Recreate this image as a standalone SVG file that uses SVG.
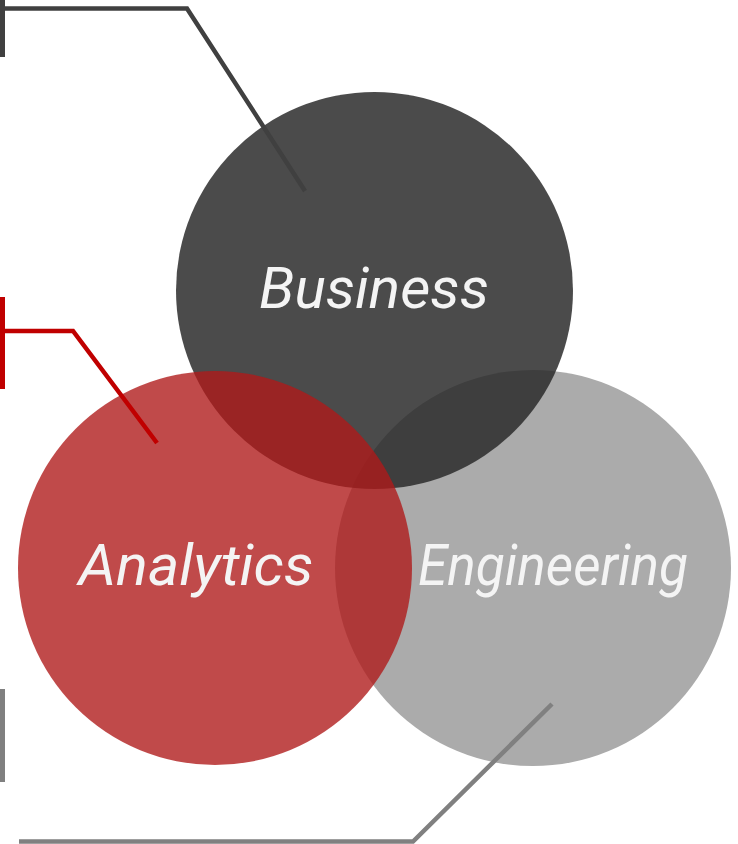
<svg xmlns="http://www.w3.org/2000/svg" width="738" height="844" viewBox="0 0 738 844">
<style>
.lbl{font-family:Roboto,"Liberation Sans",sans-serif;font-style:italic;font-weight:400;font-size:57px;fill:#f4f4f4;text-anchor:middle}
.c{fill:none;stroke-width:4.5;stroke-linejoin:miter}
</style>
<rect width="738" height="844" fill="#ffffff"/>
<g id="engineering">
<circle cx="533" cy="568" r="198" fill="#ababab"/>
</g>
<g id="business">
<circle cx="374.5" cy="290.5" r="198.5" fill="#2a2a2a" fill-opacity="0.845"/>
</g>
<g id="analytics">
<circle cx="215" cy="568" r="197" fill="#af1a1a" fill-opacity="0.79"/>
</g>
<g id="labels">
<text class="lbl" x="374" y="308" textLength="230" lengthAdjust="spacingAndGlyphs">Business</text>
<text class="lbl" x="196" y="585" textLength="235" lengthAdjust="spacingAndGlyphs">Analytics</text>
<text class="lbl" x="553" y="585" textLength="270" lengthAdjust="spacingAndGlyphs">Engineering</text>
</g>
<g id="connectors">
<rect x="0" y="0" width="5" height="57" fill="#404040"/>
<polyline class="c" stroke="#404040" points="0,8.5 187,8.5 305,191"/>
<rect x="0" y="297" width="5" height="92" fill="#c00000"/>
<polyline class="c" stroke="#c00000" points="0,331 73,331 157,443"/>
<rect x="0" y="689" width="5" height="93" fill="#808080"/>
<polyline class="c" stroke="#808080" points="19,841.5 413,841.5 552,704"/>
</g>
</svg>
